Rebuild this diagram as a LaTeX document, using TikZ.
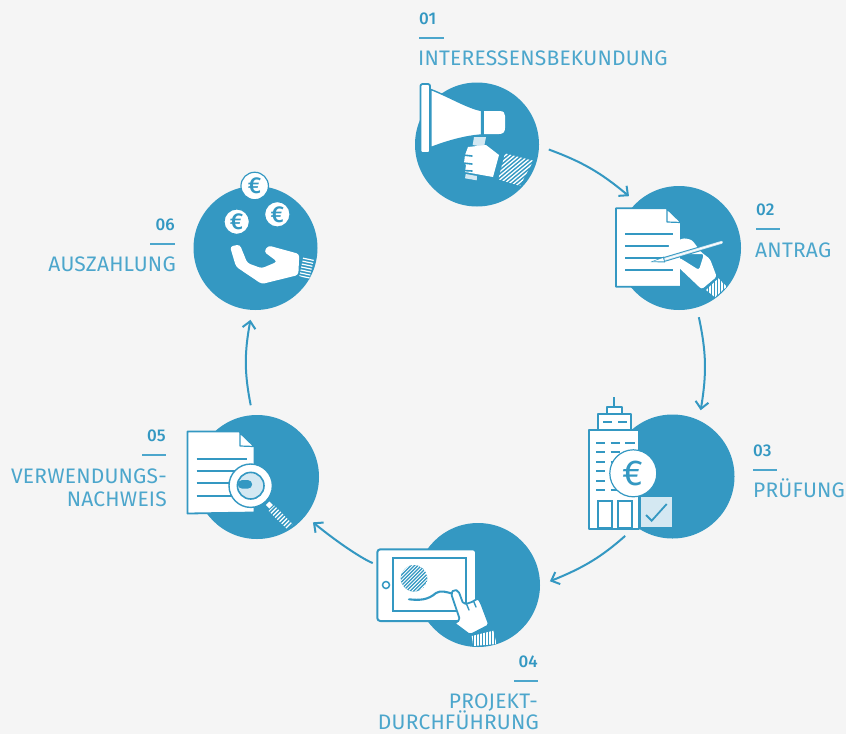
\documentclass[tikz,border=0pt]{standalone}
\usepackage{fontspec}
\setmainfont{Fira Sans}[BoldFont={Fira Sans Medium},LetterSpace=1]
\newfontfamily\eurofont{Fira Sans Medium}
\usetikzlibrary{arrows.meta,bending}
\definecolor{bg}{HTML}{F5F5F5}
\definecolor{bl}{HTML}{3498C2}
\definecolor{tx}{HTML}{4CA6CC}
\definecolor{lb}{HTML}{D4E8F2}
\newcommand{\hatchin}[4]{% center, angle, pitch, polygon path
  \begin{scope}
    \clip #4;
    \fill[bl] #4;
    \begin{scope}[shift={#1},rotate=#2]
      \foreach \k in {-30,-27,...,30}{\draw[white,line width=#3] (-40,\k)--(40,\k);}
    \end{scope}
  \end{scope}}
\tikzset{
  disc/.style={circle,fill=bl,minimum size=124pt,inner sep=0pt,outer sep=10pt},
  flow/.style={draw=bl,line width=2pt,-{Straight Barb[length=7pt,width=13pt,bend]},bend left=#1},
  num/.style={text=bl,inner sep=0pt,font=\fontsize{17}{17}\selectfont\bfseries},
  lab/.style={text=tx,inner sep=0pt,font=\fontsize{21}{23.5}\selectfont},
  rulel/.style={draw=tx,line width=1.2pt},
  ico/.style={fill=white,draw=bl,line width=1.8pt,line join=round},
  wht/.style={fill=white,line join=round},
  rowl/.style={draw=bl,line width=1.8pt},
  coin/.style={circle,fill=white,draw=bl,line width=1.2pt,inner sep=0pt,text=bl,font=\fontsize{23}{23}\eurofont}
}
\begin{document}
\begin{tikzpicture}[x=1pt,y=-1pt]
\useasboundingbox[fill=bg] (0,0) rectangle (846,734);
% discs
\node[disc] (c1) at (477,144.5) {};
\node[disc] (c2) at (679,248) {};
\node[disc] (c3) at (672.5,476.5) {};
\node[disc] (c4) at (478,585) {};
\node[disc] (c5) at (257,477) {};
\node[disc] (c6) at (255.5,248) {};
% connectors
\draw[flow=10] (c1.-4) to (c2.134);
\draw[flow=11] (c2.-74) to (c3.67);
\draw[flow=10,shorten <=4pt] (c3.-128) to (c4.3);
\draw[flow=10,shorten <=36pt] (c4.172) to (c5.-39);
\draw[flow=11] (c5.95) to (c6.-94);
% labels
\node[num,anchor=base west] (n1) at (419,24) {01};
\draw[rulel] (419,38)--(444,38);
\node[lab,anchor=base west] (l1) at (418,65) {INTERESSENSBEKUNDUNG};
\node[num,anchor=base west] (n2) at (756,215) {02};
\draw[rulel] (756,229)--(780,229);
\node[lab,anchor=base west] (l2) at (755,257) {ANTRAG};
\node[num,anchor=base west] (n3) at (753,456) {03};
\draw[rulel] (753,470)--(777,470);
\node[lab,anchor=base west] (l3) at (753,497) {PRÜFUNG};
\node[num,anchor=base east] (n4) at (538,667) {04};
\draw[rulel] (514,681)--(538,681);
\node[lab,anchor=base east] (l4a) at (538,708) {PROJEKT-};
\node[lab,anchor=base east] (l4b) at (539,729) {DURCHFÜHRUNG};
\node[num,anchor=base east] (n5) at (166,441) {05};
\draw[rulel] (142,455)--(166,455);
\node[lab,anchor=base east] (l5a) at (167,483) {VERWENDUNGS-};
\node[lab,anchor=base east] (l5b) at (167,506) {NACHWEIS};
\node[num,anchor=base east] (n6) at (175,230) {06};
\draw[rulel] (150,244)--(175,244);
\node[lab,anchor=base east] (l6) at (176,271) {AUSZAHLUNG};
% ---------- icon 1: megaphone
\draw[ico,rounded corners=2pt] (420.5,84) rectangle (430,153);
\draw[ico,line width=1.4pt] (431,89.5) .. controls (450,97) and (468,108) .. (481.5,110.5) -- (481.5,135) .. controls (465,136) and (445,142) .. (431,147.5) -- cycle;
\fill[white] (484,111) -- (499,111) .. controls (504,111) and (505,113) .. (505,116) -- (505,128) .. controls (505,132) and (503,134) .. (499,134) -- (484,134) -- cycle;
\fill[lb] (474,137)--(486,137)--(484,147)--(472.7,145)--cycle;
\fill[white,line join=round] (468,147)--(486,145)--(499,155)--(493,177)--(465,172)--(466,165)--(464,163)--(465,155)--cycle;
\draw[bl,line width=1.6pt,line cap=round] (463,155)--(472,156) (463,163)--(472,164) (463,170.5)--(472,171);
\fill[lb] (465.7,174)--(477,176)--(476.7,180.3)--(465,178.3)--cycle;
\hatchin{(516,170)}{40}{1.3}{(505,153.3)--(533.3,160.7)--(520,186)--(498.3,179.3)--cycle}
% ---------- icon 2: writing hand
\draw[ico] (616,208.3)--(666.7,208.3)--(681,222.7)--(681,286.7)--(616,286.7)--cycle;
\draw[ico,line width=1.2pt] (667,209)--(667,222)--(681,222.5)--cycle;
\foreach \yy in {234,246,258,270}{\draw[rowl] (625,\yy)--(672.7,\yy);}
\fill[white,rounded corners=2.5pt] (668,244.5)--(684,238)--(692,240)--(701,252)--(710,259)--(716.7,276.7)--(701.7,289.3)--(674.5,263.5)--(679,257.5)--(699,270)--(704,254)--(672,254)--cycle;
\draw[bl,line width=4.8pt] (723,242)--(664,259.5);
\draw[lb,line width=2.8pt,line cap=round] (721.7,242.3)--(664,259.5);
\draw[white,line width=1pt] (721.7,242.3)--(664,259.5);
\fill[bl] (664,256.5)--(650.5,262)--(665,262.5)--cycle;
\fill[white] (663,258)--(653,261.5)--(664,261.3)--cycle;
\hatchin{(716,288)}{90}{1.2}{(706,290)--(718.3,278.3)--(726.7,286.7)--(715,297.3)--cycle}
% ---------- icon 3: building
\draw[bl,line width=1.8pt] (614.3,397.3)--(614.3,406.7);
\draw[ico] (607.3,406.7) rectangle (621.7,414);
\draw[ico] (598.3,414) rectangle (631,430);
\draw[bl,line width=1.7pt] (603.3,422.3)--(611.7,422.3) (618.3,422.3)--(626.7,422.3);
\draw[ico] (589,430) rectangle (639.3,529.3);
\foreach \yy in {442.7,452.3,461.7,471,480.7,490}{
  \draw[bl,line width=1.8pt] (596,\yy)--(605,\yy) (610.7,\yy)--(620,\yy) (625,\yy)--(635,\yy);}
\draw[bl,line width=2.1pt,fill=white] (597.7,501) rectangle (612.3,528.3);
\draw[bl,line width=2.1pt,fill=white] (618.3,501) rectangle (632.3,528.3);
\node[coin,line width=1.2pt,minimum size=47pt,font=\fontsize{36}{36}\selectfont] (e3) at (633.3,473.3) {€};
\draw[fill=lb,draw=bl,line width=1pt] (640,496.7) rectangle (672.3,527.7);
\draw[bl,line width=1.8pt] (646,515)--(651.7,520.7)--(666.7,504);
% ---------- icon 4: tablet
\draw[ico,line width=2pt,rounded corners=3pt] (377.3,549.3) rectangle (476,621);
\draw[bl,line width=2pt] (393.3,558.3) rectangle (465.7,611);
\draw[bl,line width=1.5pt] (386,585) circle[radius=3.5pt];
\begin{scope}
  \clip (414,578.3) circle[radius=13.3pt];
  \fill[bl] (414,578.3) circle[radius=13.3pt];
  \begin{scope}[shift={(414,578.3)},rotate=45]
    \foreach \k in {-15,-12.5,...,15}{\draw[white,line width=0.9pt] (-20,\k)--(20,\k);}
  \end{scope}
\end{scope}
\draw[bl,line width=2.1pt,line cap=round] (409,599.3) .. controls (420,600.5) and (428,600) .. (436,593) .. controls (441,590) and (446,592) .. (452,593.5);
\draw[ico,rounded corners=2pt] (451,593.3)--(454,589.5)--(458.5,591)--(463.3,604)--(470,603)--(478.3,598.3)--(481,603)--(489.3,625)--(470,635)--(454.3,623.3)--(460,620)--cycle;
\draw[bl,line width=1.4pt,line cap=round] (466.5,604)--(469,610) (473.5,601)--(476,607);
\hatchin{(484,640)}{90}{1.3}{(471.7,636)--(493.3,630.7)--(496.7,644)--(473.3,646)--cycle}
% ---------- icon 5: report
\draw[ico] (187.5,431.5)--(239.5,431.5)--(254.5,446.7)--(254.5,512.5)--(187.5,513.5)--cycle;
\draw[ico,line width=1.2pt] (240,433)--(240,446)--(254,446.5)--cycle;
\foreach \yy in {459,471,483.3,496}{\draw[rowl] (196.7,\yy)--(246.7,\yy);}
\hatchin{(280,517)}{45}{1.2}{(274.5,505.5)--(293,524.5)--(287,529)--(268.5,511)--cycle}
\fill[white] (269.3,501.5)--(273,505)--(269.3,508.5)--(265.8,505)--cycle;
\draw[fill=white,draw=bl,line width=1.4pt] (250.7,485.7) circle[radius=21.7pt];
\draw[fill=lb,draw=bl,line width=1.6pt] (250.7,485.7) circle[radius=13.3pt];
\fill[bl,rounded corners=3.8pt] (238,480.2) -- (252,480.2) -- (252,488.5) -- (238,488.5) -- cycle;
% ---------- icon 6: coins and hand
\node[coin,minimum size=27.5pt] (e1) at (254.7,186) {€};
\node[coin,minimum size=25.5pt] (e2) at (236.7,221.7) {€};
\node[coin,minimum size=25.5pt] (e4) at (277.3,214.3) {€};
\fill[white,rounded corners=3pt] (230,246.5)--(239.8,244.5)--(247.3,263)--(261.7,268.3)--(277.3,261.7)--(264,251.7)--(268.3,245.5)--(299.3,254)--(298.3,275)--(261.7,284)--(236,266.7)--cycle;
\hatchin{(306,268)}{-12}{1.2}{(303.3,256.7)--(314,259.3)--(309.3,279.3)--(299.3,276)--cycle}
\end{tikzpicture}
\end{document}
